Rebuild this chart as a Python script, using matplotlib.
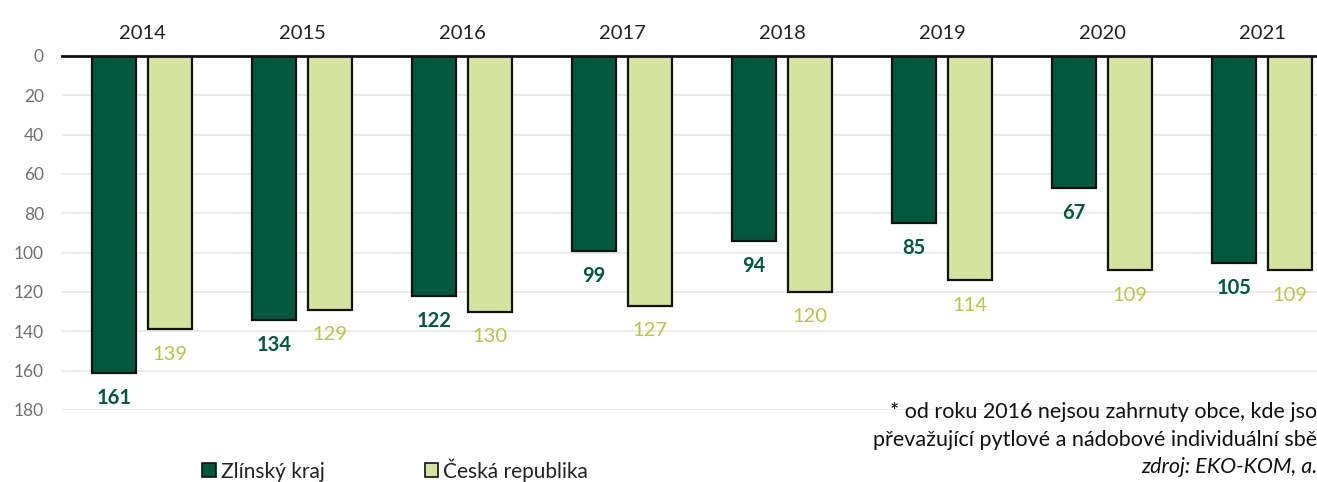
import numpy as np
import matplotlib.pyplot as plt
from matplotlib.patches import Patch

plt.rcParams['font.family'] = ['Lato', 'DejaVu Sans']

# data
years = ['2014', '2015', '2016', '2017', '2018', '2019', '2020', '2021']
zlinsky = [161, 134, 122, 99, 94, 85, 67, 105]
cr = [139, 129, 130, 127, 120, 114, 109, 109]
series_names = ['Zlínský kraj', 'Česká republika']
note_lines = ['* od roku 2016 nejsou zahrnuty obce, kde jso',
              'převažující pytlové a nádobové individuální sbě']
source = 'zdroj: EKO-KOM, a.'

dark = '#00583c'
light = '#d5e39e'
light_txt = '#b3c84a'

W, H = 1317, 482
fig = plt.figure(figsize=(W / 100, H / 100), dpi=100)
# axes runs past the right edge, like the cropped original
ax = fig.add_axes([62 / W, (H - 410) / H, 1280 / W, 354 / H])

x = np.arange(len(years))
bw = 0.275
off = 0.175
ax.bar(x - off, zlinsky, bw, color=dark, edgecolor='#111111', linewidth=1.6, zorder=3)
ax.bar(x + off, cr, bw, color=light, edgecolor='#111111', linewidth=1.6, zorder=3)

for xi, v in zip(x, zlinsky):
    ax.annotate(str(v), (xi - off, v), xytext=(0, -18), textcoords='offset points',
                ha='center', va='center', fontsize=14.5, fontweight='bold', color=dark)
for xi, v in zip(x, cr):
    ax.annotate(str(v), (xi + off, v), xytext=(0, -18), textcoords='offset points',
                ha='center', va='center', fontsize=14.5, color=light_txt)

ax.set_xlim(-0.5, 7.5)
ax.set_ylim(180, 0)
ax.set_yticks(range(0, 181, 20))
ax.set_xticks(x)
ax.set_xticklabels(years)
ax.xaxis.tick_top()
ax.tick_params(axis='x', length=0, pad=10, labelsize=14.5, colors='#222222')
ax.tick_params(axis='y', length=0, pad=13, labelsize=12.5, labelcolor='#707070')
ax.grid(axis='y', color='#e8e8e8', linewidth=1.2, zorder=0)
for s in ['left', 'right', 'bottom']:
    ax.spines[s].set_visible(False)
ax.spines['top'].set_linewidth(2)
ax.spines['top'].set_color('#111111')
ax.spines['top'].set_zorder(4)

handles = [Patch(facecolor=dark, edgecolor='#111111', linewidth=1.2),
           Patch(facecolor=light, edgecolor='#111111', linewidth=1.2)]
fig.legend(handles, series_names, loc='center left', bbox_to_anchor=(202 / W, 1 - 470 / H),
           ncol=2, frameon=False, fontsize=15, handlelength=0.65, handleheight=0.65,
           handletextpad=0.25, columnspacing=4.8, borderpad=0, borderaxespad=0,
           labelcolor='#222222')

fig.text(1, 1 - 412 / H, note_lines[0], ha='right', va='center', fontsize=15.5, color='#111111')
fig.text(1, 1 - 440 / H, note_lines[1], ha='right', va='center', fontsize=15.5, color='#111111')
fig.text(1, 1 - 467 / H, source, ha='right', va='center', fontsize=15.5, style='italic', color='#111111')

fig.savefig('out.png', dpi=100)
